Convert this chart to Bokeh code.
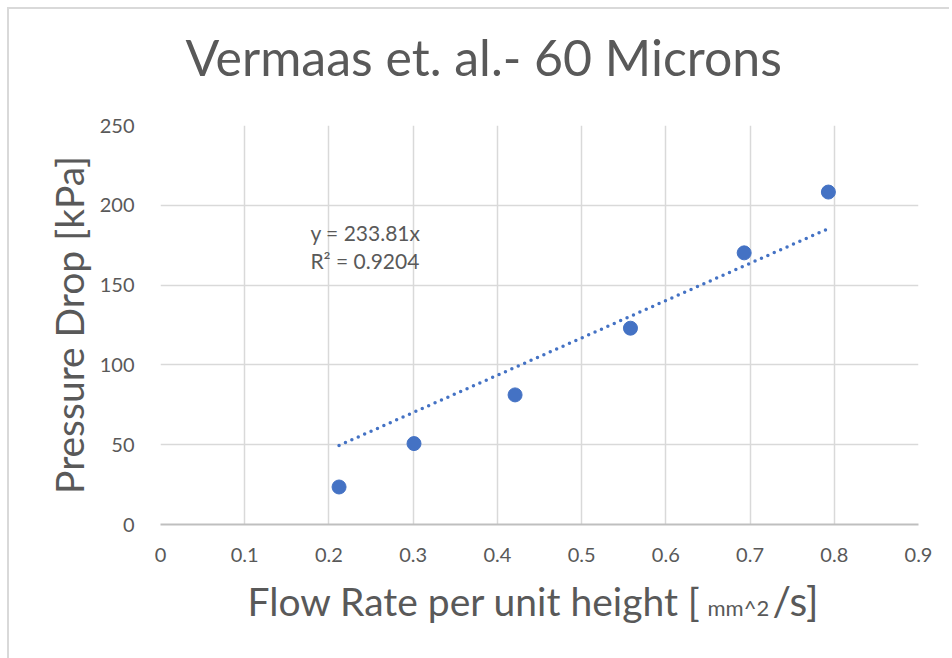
from bokeh.plotting import figure
from bokeh.layouts import column
from bokeh.models import Label, FixedTicker
from bokeh.embed import file_html
from bokeh.resources import INLINE

# Data
flow_rate = [0.212, 0.301, 0.421, 0.558, 0.693, 0.793]
pressure_drop = [23.5, 50.7, 81.2, 123.0, 170.2, 208.3]
slope = 233.81
r_squared = 0.9204
x_ticks = [0, 0.1, 0.2, 0.3, 0.4, 0.5, 0.6, 0.7, 0.8, 0.9]
y_ticks = [0, 50, 100, 150, 200, 250]
title_text = "Vermaas et. al.- 60 Microns"
y_title = "Pressure Drop [kPa]"
x_title_parts = ["Flow Rate per unit height [", "mm^2", "/s]"]

FONT = "Lato"
TXT = "#595959"
BLUE = "#4472C4"
W = 940


def strip(h):
    f = figure(width=W, height=h, output_backend="svg", toolbar_location=None,
               x_range=(0, 1), y_range=(0, 1), x_axis_location=None, y_axis_location=None,
               min_border=0, min_border_left=0, min_border_right=0,
               min_border_top=0, min_border_bottom=0)
    f.grid.visible = False
    f.outline_line_color = None
    return f


# title strip
p0 = strip(91)
p0.add_layout(Label(x=25, y=44, x_units="screen", y_units="screen", text=title_text,
                    text_font=FONT, text_font_size="50px", text_color=TXT, text_baseline="middle"))

# main plot
p = figure(width=W, height=474, output_backend="svg", toolbar_location=None,
           x_range=(0, 0.9), y_range=(0, 250),
           min_border_left=151, min_border_right=31, min_border_top=25, min_border_bottom=50)
p.outline_line_color = None
p.background_fill_color = "white"
p.border_fill_color = "white"

p.xgrid.ticker = FixedTicker(ticks=x_ticks)
p.ygrid.ticker = FixedTicker(ticks=y_ticks)
p.xgrid.grid_line_color = "#d9d9d9"
p.ygrid.grid_line_color = "#d9d9d9"
p.xgrid.grid_line_width = 1.5
p.ygrid.grid_line_width = 1.5

p.xaxis.ticker = FixedTicker(ticks=x_ticks)
p.yaxis.ticker = FixedTicker(ticks=y_ticks)
p.xaxis.major_label_overrides = {0: "0"}
for ax in (p.xaxis, p.yaxis):
    ax.major_tick_line_color = None
    ax.minor_tick_line_color = None
    ax.major_label_text_font = FONT
    ax.major_label_text_font_size = "20px"
    ax.major_label_text_color = TXT
    ax.axis_label_text_font = FONT
    ax.axis_label_text_font_size = "39px"
    ax.axis_label_text_font_style = "normal"
    ax.axis_label_text_color = TXT
p.yaxis.axis_line_color = None
p.xaxis.axis_line_color = "#bfbfbf"
p.xaxis.axis_line_width = 2
p.yaxis.major_label_standoff = 20
p.xaxis.major_label_standoff = 17
p.yaxis.axis_label = y_title
p.yaxis.axis_label_standoff = 5

# trendline (fit through origin)
tx = [min(flow_rate), max(flow_rate)]
ty = [slope * v for v in tx]
p.line(tx, ty, line_color=BLUE, line_width=3.5, line_dash="0 7", line_cap="round")

# points
p.scatter(flow_rate, pressure_drop, size=14, fill_color=BLUE, line_color=BLUE)

# equation
p.add_layout(Label(x=0.178, y=183, text=f"y = {slope}x", text_font=FONT, text_font_size="21px",
                   text_color=TXT, text_baseline="middle"))
p.add_layout(Label(x=0.178, y=165.5, text=f"R² = {r_squared}", text_font=FONT, text_font_size="21px",
                   text_color=TXT, text_baseline="middle"))

# x axis title strip (mixed font sizes)
p2 = strip(84)
p2.add_layout(Label(x=87, y=58, x_units="screen", y_units="screen", text=x_title_parts[0],
                    text_font=FONT, text_font_size="39px", text_color=TXT, text_baseline="middle"))
p2.add_layout(Label(x=547, y=51, x_units="screen", y_units="screen", text=x_title_parts[1],
                    text_font=FONT, text_font_size="22px", text_color=TXT, text_baseline="middle"))
p2.add_layout(Label(x=612, y=58, x_units="screen", y_units="screen", text=x_title_parts[2],
                    text_font=FONT, text_font_size="41px", text_color=TXT, text_baseline="middle"))

layout = column(p0, p, p2, spacing=0, margin=(7, 0, 0, 7),
                styles={"border-left": "2px solid #d9d9d9", "border-top": "2px solid #d9d9d9"})

open("out.html", "w").write(file_html(layout, INLINE))
